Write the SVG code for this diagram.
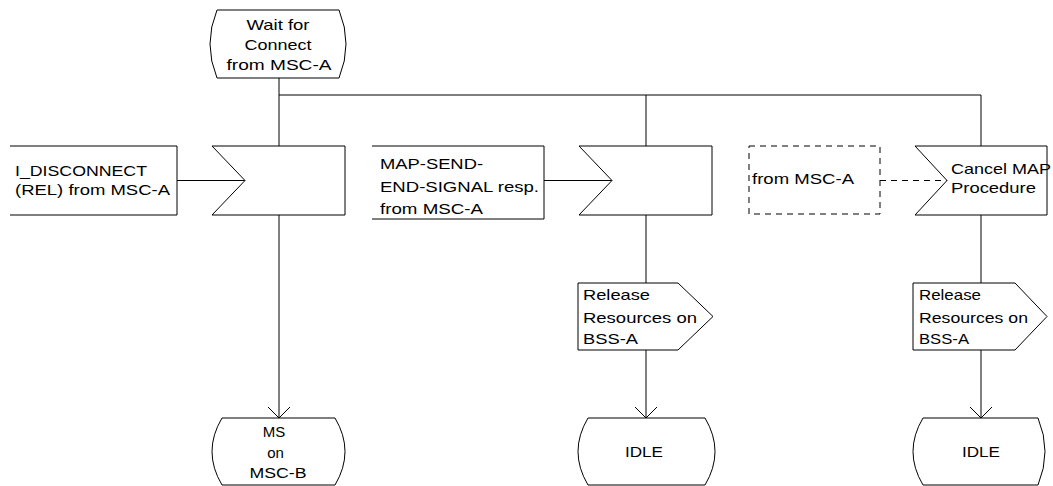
<svg xmlns="http://www.w3.org/2000/svg" width="1053" height="486" viewBox="0 0 1053 486">
<style>
.s{fill:#fff;stroke:#000;stroke-width:1}
.o{fill:none;stroke:#000;stroke-width:1}
.d{fill:none;stroke:#000;stroke-width:1;stroke-dasharray:6,5}
.t{font-family:"Liberation Sans",Arial,sans-serif;font-size:15px;fill:#000}
.m{text-anchor:middle}
</style>
<defs>
<marker id="arr" markerUnits="userSpaceOnUse" markerWidth="24" markerHeight="24" refX="11" refY="11" orient="auto">
<path d="M0,0 L11,11 L0,22" fill="none" stroke="#000" stroke-width="1"/>
</marker>
</defs>
<rect width="1053" height="486" fill="#fff"/>
<g id="connectors">
<path class="o" d="M279,78 V95 H981"/>
<path class="o" d="M279,95 V146"/>
<path class="o" d="M646,95 V146"/>
<path class="o" d="M981,95 V146"/>
<path class="o" d="M177,180.5 H245"/>
<path class="o" d="M544,180.5 H612"/>
<path class="d" d="M880,180.5 H947"/>
<path class="o" d="M279,215 V418" marker-end="url(#arr)"/>
<path class="o" d="M646,215 V283"/>
<path class="o" d="M646,350 V418" marker-end="url(#arr)"/>
<path class="o" d="M981,215 V283"/>
<path class="o" d="M981,350 V418" marker-end="url(#arr)"/>
</g>
<g id="state-wait">
<path class="s" d="M217,10 H339 Q353,44 339,78 H217 Q203,44 217,10 Z"/>
<text class="t m" x="278" y="30" textLength="63" lengthAdjust="spacingAndGlyphs">Wait for</text>
<text class="t m" x="278" y="50" textLength="67" lengthAdjust="spacingAndGlyphs">Connect</text>
<text class="t m" x="279" y="70" textLength="105" lengthAdjust="spacingAndGlyphs">from MSC-A</text>
</g>
<g id="sig-disconnect">
<path class="o" d="M10,146 H177 V215 H10"/>
<text class="t" x="15" y="176" textLength="132" lengthAdjust="spacingAndGlyphs">I_DISCONNECT</text>
<text class="t" x="15" y="195" textLength="155" lengthAdjust="spacingAndGlyphs">(REL) from MSC-A</text>
</g>
<g id="input-1">
<path class="s" d="M212,146 H345 V215 H212 L245,180.5 Z"/>
</g>
<g id="sig-map">
<path class="o" d="M372,146 H544 V219 H372"/>
<text class="t" x="380" y="169" textLength="103" lengthAdjust="spacingAndGlyphs">MAP-SEND-</text>
<text class="t" x="380" y="192" textLength="159" lengthAdjust="spacingAndGlyphs">END-SIGNAL resp.</text>
<text class="t" x="380" y="214" textLength="103" lengthAdjust="spacingAndGlyphs">from MSC-A</text>
</g>
<g id="input-2">
<path class="s" d="M579,146 H712 V215 H579 L612,180.5 Z"/>
</g>
<g id="sig-cancel">
<rect class="d" x="749" y="146" width="131" height="68"/>
<text class="t" x="752" y="184" textLength="102" lengthAdjust="spacingAndGlyphs">from MSC-A</text>
</g>
<g id="input-3">
<path class="s" d="M915,146 H1047 V215 H915 L947,180.5 Z"/>
<text class="t" x="951" y="174" textLength="100" lengthAdjust="spacingAndGlyphs">Cancel MAP</text>
<text class="t" x="951" y="193" textLength="85" lengthAdjust="spacingAndGlyphs">Procedure</text>
</g>
<g id="output-1">
<path class="s" d="M578,283 H678 L713,316.5 L678,350 H578 Z"/>
<text class="t" x="583" y="300" textLength="67" lengthAdjust="spacingAndGlyphs">Release</text>
<text class="t" x="583" y="323" textLength="114" lengthAdjust="spacingAndGlyphs">Resources on</text>
<text class="t" x="583" y="344" textLength="55" lengthAdjust="spacingAndGlyphs">BSS-A</text>
</g>
<g id="output-2">
<path class="s" d="M913,283 H1015 L1047,316.5 L1015,350 H913 Z"/>
<text class="t" x="919" y="300" textLength="62" lengthAdjust="spacingAndGlyphs">Release</text>
<text class="t" x="919" y="323" textLength="109" lengthAdjust="spacingAndGlyphs">Resources on</text>
<text class="t" x="919" y="344" textLength="50" lengthAdjust="spacingAndGlyphs">BSS-A</text>
</g>
<g id="state-ms">
<path class="s" d="M222,418 H335 Q355,451.5 335,485 H222 Q202,451.5 222,418 Z"/>
<text class="t m" x="274" y="437">MS</text>
<text class="t m" x="275.5" y="458">on</text>
<text class="t m" x="278" y="478" textLength="57" lengthAdjust="spacingAndGlyphs">MSC-B</text>
</g>
<g id="state-idle-1">
<path class="s" d="M588,418 H705 Q725,451.5 705,485 H588 Q568,451.5 588,418 Z"/>
<text class="t m" x="644" y="457" textLength="38" lengthAdjust="spacingAndGlyphs">IDLE</text>
</g>
<g id="state-idle-2">
<path class="s" d="M923,418 H1038 Q1052,451.5 1038,485 H923 Q903,451.5 923,418 Z"/>
<text class="t m" x="981" y="457" textLength="38" lengthAdjust="spacingAndGlyphs">IDLE</text>
</g>
</svg>
